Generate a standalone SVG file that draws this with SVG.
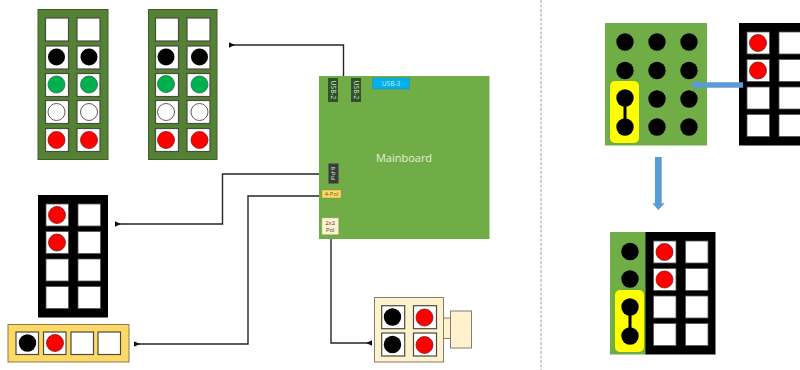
<svg xmlns="http://www.w3.org/2000/svg" width="800" height="370" viewBox="0 0 800 370">
<style>
text{font-family:"Open Sans","Liberation Sans",sans-serif}
.gb{fill:#548235;stroke:#3f5f2a;stroke-width:1}
.cell{fill:#fff;stroke:#4a4a40;stroke-width:1.200}
.bc{fill:#fff;stroke:#555;stroke-width:.8}
.r{fill:#f00;stroke:#7a1a1a;stroke-width:.8}
.dk{fill:#000}
.gr{fill:#00b050;stroke:#2a6a3a;stroke-width:.8}
.wh{fill:#fff;stroke:#333;stroke-width:.8}
.conn{fill:none;stroke:#262626;stroke-width:1.400;marker-end:url(#a)}
.pin{fill:#000}
.lab{fill:#d8e8cc;font-size:6.500px;text-anchor:middle}
.ye{fill:#ffff00}
.mg{fill:#70ad47}
.ba{fill:#5b9bd5}
</style>
<defs>
<marker id="a" markerUnits="userSpaceOnUse" markerWidth="7" markerHeight="7" refX="6" refY="3.500" orient="auto"><path d="M0 3.500L6 0.800V6.200Z" fill="#111"/></marker>
<g id="col">
<rect x="45.500" y="18" width="23" height="23" class="cell"/><rect x="77" y="18" width="23" height="23" class="cell"/>
<rect x="45.500" y="46" width="23" height="23" class="cell"/><rect x="77" y="46" width="23" height="23" class="cell"/>
<rect x="45.500" y="73.500" width="23" height="23" class="cell"/><rect x="77" y="73.500" width="23" height="23" class="cell"/>
<rect x="45.500" y="100.500" width="23" height="23" class="cell"/><rect x="77" y="100.500" width="23" height="23" class="cell"/>
<rect x="45.500" y="128.500" width="23" height="23" class="cell"/><rect x="77" y="128.500" width="23" height="23" class="cell"/>
</g>
<g id="black">
<rect width="70" height="122.500" fill="#000"/>
<rect x="8" y="9" width="22.500" height="22" class="bc"/><rect x="40" y="9" width="22.500" height="22" class="bc"/>
<rect x="8" y="36.500" width="22.500" height="22" class="bc"/><rect x="40" y="36.500" width="22.500" height="22" class="bc"/>
<rect x="8" y="64" width="22.500" height="22" class="bc"/><rect x="40" y="64" width="22.500" height="22" class="bc"/>
<rect x="8" y="91.500" width="22.500" height="22" class="bc"/><rect x="40" y="91.500" width="22.500" height="22" class="bc"/>
<circle cx="19" cy="20" r="8.500" class="r"/><circle cx="19" cy="47.500" r="8.500" class="r"/>
</g>
<g id="bridge">
<rect x="0" y="0" width="29" height="62" rx="5" class="ye"/>
<circle cx="15" cy="17" r="8.700" class="pin"/><circle cx="15" cy="46" r="8.700" class="pin"/>
<rect x="13.500" y="17" width="3" height="29" class="pin"/>
</g>
</defs>

<g id="connectors">
<path class="conn" d="M343.500 76V45H229"/>
<path class="conn" d="M319 174H222.500V224H115"/>
<path class="conn" d="M319 196H248V344H134"/>
<path class="conn" d="M331 238V343H372"/>
</g>

<g id="block1">
<rect x="38" y="9.500" width="70" height="150" class="gb"/>
<use href="#col"/>
<circle cx="56.500" cy="57" r="8.500" class="dk"/><circle cx="89" cy="57" r="8.500" class="dk"/>
<circle cx="56.500" cy="84.500" r="8.500" class="gr"/><circle cx="89" cy="84.500" r="8.500" class="gr"/>
<circle cx="56.500" cy="112" r="8.500" class="wh"/><circle cx="89" cy="112" r="8.500" class="wh"/>
<circle cx="56.500" cy="140" r="8.500" class="r"/><circle cx="89" cy="140" r="8.500" class="r"/>
</g>
<g id="block2">
<rect x="148.500" y="9.500" width="68.500" height="150" class="gb"/>
<use href="#col" x="110"/>
<circle cx="166" cy="57" r="8.500" class="dk"/><circle cx="199.500" cy="57" r="8.500" class="dk"/>
<circle cx="166" cy="84" r="8.500" class="gr"/><circle cx="199.500" cy="84.500" r="8.500" class="gr"/>
<circle cx="166" cy="112" r="8.500" class="wh"/><circle cx="199.500" cy="112" r="8.500" class="wh"/>
<circle cx="166" cy="140" r="8.500" class="r"/><circle cx="199.500" cy="140" r="8.500" class="r"/>
</g>

<g id="mainboard">
<rect x="319" y="76" width="170.500" height="163" class="mg"/>
<text x="404" y="162" font-size="11" fill="#e2efd9" text-anchor="middle">Mainboard</text>
</g>
<g id="usb2a"><rect x="328" y="78" width="10" height="24" fill="#30512a"/><text class="lab" transform="translate(330.700 90) rotate(90)">USB-2</text></g>
<g id="usb2b"><rect x="351" y="78" width="10" height="24" fill="#30512a"/><text class="lab" transform="translate(353.700 90) rotate(90)">USB-2</text></g>
<g id="usb3"><rect x="372.500" y="78" width="37" height="11" fill="#00b0f0" stroke="#2e8fb0" stroke-width=".6"/><text class="lab" x="391" y="86" fill="#d8f0fa">USB-3</text></g>
<g id="pol8"><rect x="328.500" y="163.500" width="10" height="20" fill="#3b3b3b"/><text class="lab" transform="translate(331 173.500) rotate(90)" style="font-size:6px">8-Pol</text></g>
<g id="pol4"><rect x="322" y="190" width="19" height="8" fill="#ffd966" stroke="#a08a3a" stroke-width=".5"/><text x="331.500" y="196.300" font-size="6" text-anchor="middle" fill="#6a5a20">4-Pol</text></g>
<g id="pol2x2"><rect x="322" y="218" width="16.500" height="16.500" fill="#fff2cc" stroke="#bbb" stroke-width=".4"/><text x="330.200" y="224.500" font-size="6" text-anchor="middle" fill="#444">2x2</text><text x="330.200" y="231.800" font-size="6" text-anchor="middle" fill="#444">Pol</text></g>

<g id="black-left"><use href="#black" x="38" y="195"/></g>

<g id="yellow-left">
<rect x="8" y="324.500" width="121" height="37.500" fill="#ffd966" stroke="#8a7a4a"/>
<rect x="16" y="332" width="22.500" height="22.500" class="cell"/><rect x="43.500" y="332" width="22.500" height="22.500" class="cell"/>
<rect x="71" y="332" width="22.500" height="22.500" class="cell"/><rect x="98" y="332" width="22.500" height="22.500" class="cell"/>
<circle cx="27.500" cy="343" r="8.700" class="dk"/><circle cx="55" cy="343" r="8.500" class="r"/>
</g>

<g id="beige">
<rect x="450.500" y="311" width="21" height="37" fill="#fff2cc" stroke="#7f7f6f"/>
<rect x="443" y="318" width="7.500" height="20.500" fill="#fff2cc" stroke="#7f7f6f"/>
<rect x="374.500" y="297.500" width="69" height="64.500" fill="#fff2cc" stroke="#7f7f6f"/>
<rect x="381.700" y="305.700" width="23" height="23" class="cell"/><rect x="413.500" y="305.700" width="23" height="23" class="cell"/>
<rect x="381.700" y="333" width="23" height="23" class="cell"/><rect x="413.500" y="333" width="23" height="23" class="cell"/>
<circle cx="392.500" cy="317" r="8.700" class="dk"/><circle cx="424.500" cy="317.500" r="8.500" class="r"/>
<circle cx="392.500" cy="344.500" r="8.700" class="dk"/><circle cx="424.500" cy="345" r="8.500" class="r"/>
</g>

<line id="divider" x1="541" y1="0" x2="541" y2="370" stroke="#a0a0a0" stroke-width="1" stroke-dasharray="3 1.500"/>

<g id="right-green">
<rect x="605" y="23" width="102" height="122.500" class="mg"/>
<g class="pin">
<circle cx="625" cy="42" r="8.700"/><circle cx="657" cy="42" r="8.700"/><circle cx="689" cy="42" r="8.700"/>
<circle cx="625" cy="70.500" r="8.700"/><circle cx="657" cy="70.500" r="8.700"/><circle cx="689" cy="70.500" r="8.700"/>
<circle cx="657" cy="99" r="8.700"/><circle cx="689" cy="99" r="8.700"/>
<circle cx="657" cy="127" r="8.700"/><circle cx="689" cy="127" r="8.700"/>
</g>
<use href="#bridge" x="610" y="81"/>
</g>

<g id="right-black"><use href="#black" x="739" y="23"/></g>

<g id="bottom">
<rect x="610" y="232" width="36" height="122.500" class="mg"/>
<circle cx="630" cy="251.500" r="8.700" class="pin"/><circle cx="630" cy="279" r="8.700" class="pin"/>
<use href="#bridge" x="615" y="290"/>
<use href="#black" x="645.500" y="232"/>
</g>

<g id="arrows">
<path class="ba" d="M743 82.300H697.500V79.500L691 85L697.500 90.500V87.700H743Z"/>
<path class="ba" d="M655 157H661.700V203.300H664.700L658.300 210L652.300 203.300H655Z"/>
</g>
</svg>
